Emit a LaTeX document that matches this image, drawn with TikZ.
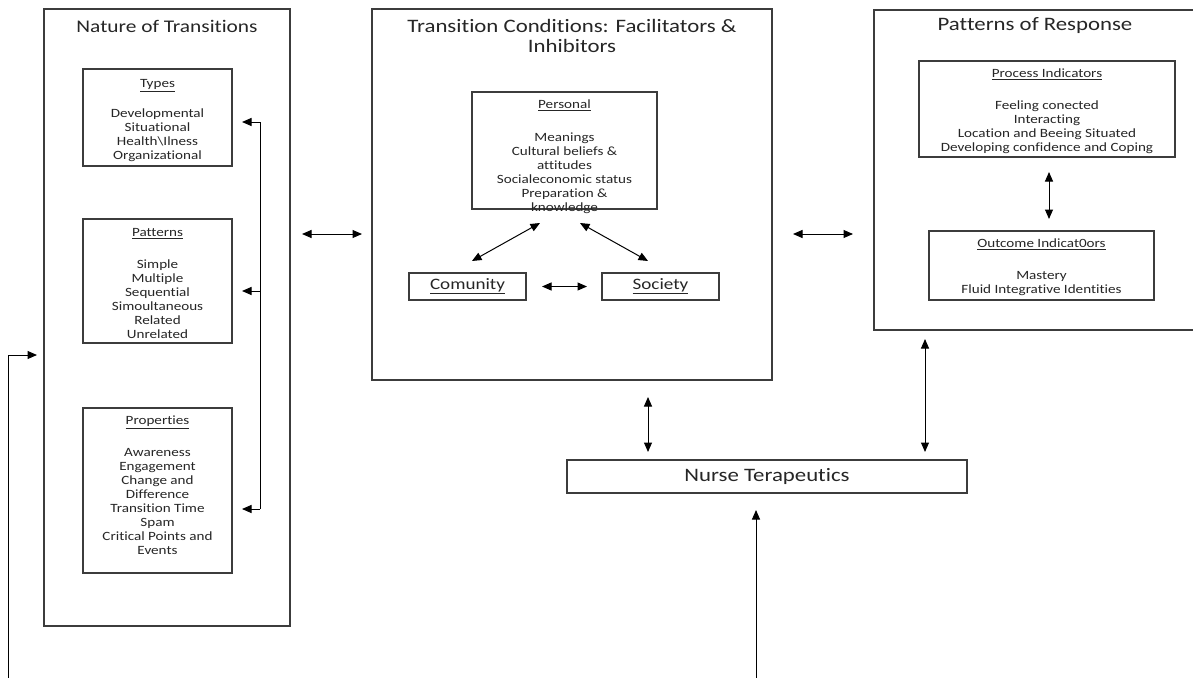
\documentclass[tikz,border=0pt]{standalone}
\usepackage{fontspec}
\setmainfont{Carlito}[FakeStretch=1.2,Ligatures=NoCommon]
\usetikzlibrary{arrows.meta}
\definecolor{ln}{HTML}{3C3C3C}
\definecolor{tx}{HTML}{262626}
\tikzset{
  box/.style={draw=ln, line width=1.1pt, inner sep=0pt, outer sep=0pt},
  body/.style={text=tx, align=center, inner sep=0pt, anchor=north, font=\fontsize{12.6}{14}\selectfont},
  title/.style={text=tx, align=center, inner sep=0pt, font=\fontsize{19}{20}\selectfont},
  arr/.style={draw=black, line width=1pt, -{Triangle[length=9.5pt,width=8pt]}},
  darr/.style={draw=black, line width=1pt, {Triangle[length=9.5pt,width=8pt]}-{Triangle[length=9.5pt,width=8pt]}}
}
\begin{document}
\begin{tikzpicture}[x=1pt,y=-1pt]
\clip (0,0) rectangle (1193,677);
\fill[white] (0,0) rectangle (1193,677);
% big boxes
\node[box, minimum width=246pt, minimum height=617pt] (L) at (167,317.5) {};
\node[box, minimum width=400pt, minimum height=371pt] (M) at (572,194.5) {};
\node[box, minimum width=326pt, minimum height=320pt] (R) at (1037,170) {};
\node[title, font=\fontsize{17.8}{20}\selectfont] (Lt) at (167,26) {Nature of Transitions};
\node[title] (Mt) at (572,36) {Transition Conditions: Facilitators \&\\Inhibitors};
\node[title] (Rt) at (1035,26) {Patterns of Response};
% left inner boxes
\node[box, minimum width=149pt, minimum height=97pt] (Ty) at (157.5,117.5) {};
\node[body] (Tyt) at (157.5,79) {\underline{Types}\\[16pt]Developmental\\Situational\\Health\textbackslash Ilness\\Organizational};
\node[box, minimum width=149pt, minimum height=124pt] (Pa) at (157.5,281) {};
\node[body] (Pat) at (157.5,228) {\underline{Patterns}\\[18pt]Simple\\Multiple\\Sequential\\Simoultaneous\\Related\\Unrelated};
\node[box, minimum width=149pt, minimum height=165pt] (Pr) at (157.5,490.5) {};
\node[body] (Prt) at (157.5,416) {\underline{Properties}\\[18pt]Awareness\\Engagement\\Change and\\Difference\\Transition Time\\Spam\\Critical Points and\\Events};
% middle inner boxes
\node[box, minimum width=185pt, minimum height=117pt] (Pe) at (564.5,150.5) {};
\node[body] (Pet) at (564.5,100) {\underline{Personal}\\[19pt]Meanings\\Cultural beliefs \&\\attitudes\\Socialeconomic status\\Preparation \&\\knowledge};
\node[box, minimum width=117pt, minimum height=27pt, text=tx, font=\fontsize{15.9}{18}\selectfont] (Co) at (467.5,286.5) {\underline{Comunity}};
\node[box, minimum width=117pt, minimum height=27pt, text=tx, font=\fontsize{15.9}{18}\selectfont] (So) at (660.5,286.5) {\underline{Society}};
% right inner boxes
\node[box, minimum width=256pt, minimum height=96pt] (Pi) at (1047,109) {};
\node[body] (Pit) at (1047,69) {\underline{Process Indicators}\\[18pt]Feeling conected\\Interacting\\Location and Beeing Situated\\Developing confidence and Coping};
\node[box, minimum width=225pt, minimum height=69pt] (Oi) at (1041.5,265.5) {};
\node[body] (Oit) at (1041.5,239) {\underline{Outcome Indicat0ors}\\[18pt]Mastery\\Fluid Integrative Identities};
% nurse
\node[box, minimum width=400pt, minimum height=33pt, text=tx, font=\fontsize{19}{20}\selectfont] (N) at (767,476.5) {Nurse Terapeutics};
% coordinates
\coordinate (v1) at (260,122);
\coordinate (v2) at (260,291);
\coordinate (v3) at (260,509);
\coordinate (a1) at (242,122);
\coordinate (a2) at (242,291);
\coordinate (a3) at (242,509);
\coordinate (bl) at (8,680);
\coordinate (a0) at (37,355);
\coordinate (lm1) at (302,234);
\coordinate (lm2) at (362,234);
\coordinate (mr1) at (793,234);
\coordinate (mr2) at (853,234);
\coordinate (pc1) at (540,223);
\coordinate (pc2) at (472,261);
\coordinate (ps1) at (580,223);
\coordinate (ps2) at (648,261);
\coordinate (po1) at (1049,172);
\coordinate (po2) at (1049,219);
\coordinate (mn1) at (648,397);
\coordinate (mn2) at (648,452);
\coordinate (rn1) at (925,339);
\coordinate (rn2) at (925,452);
\coordinate (bn1) at (756,680);
\coordinate (bn2) at (756,510);
% connectors
\draw[line width=1pt] (v1) -- (v3);
\draw[arr] (v1) -- (a1);
\draw[arr] (v2) -- (a2);
\draw[arr] (v3) -- (a3);
\draw[arr] (bl) |- (a0);
\draw[darr] (lm1) -- (lm2);
\draw[darr] (mr1) -- (mr2);
\draw[darr] (pc1) -- (pc2);
\draw[darr] (ps1) -- (ps2);
\draw[darr, shorten <=16pt, shorten >=15pt] (Co) -- (So);
\draw[darr] (po1) -- (po2);
\draw[darr] (mn1) -- (mn2);
\draw[darr] (rn1) -- (rn2);
\draw[arr] (bn1) -- (bn2);
\end{tikzpicture}
\end{document}
